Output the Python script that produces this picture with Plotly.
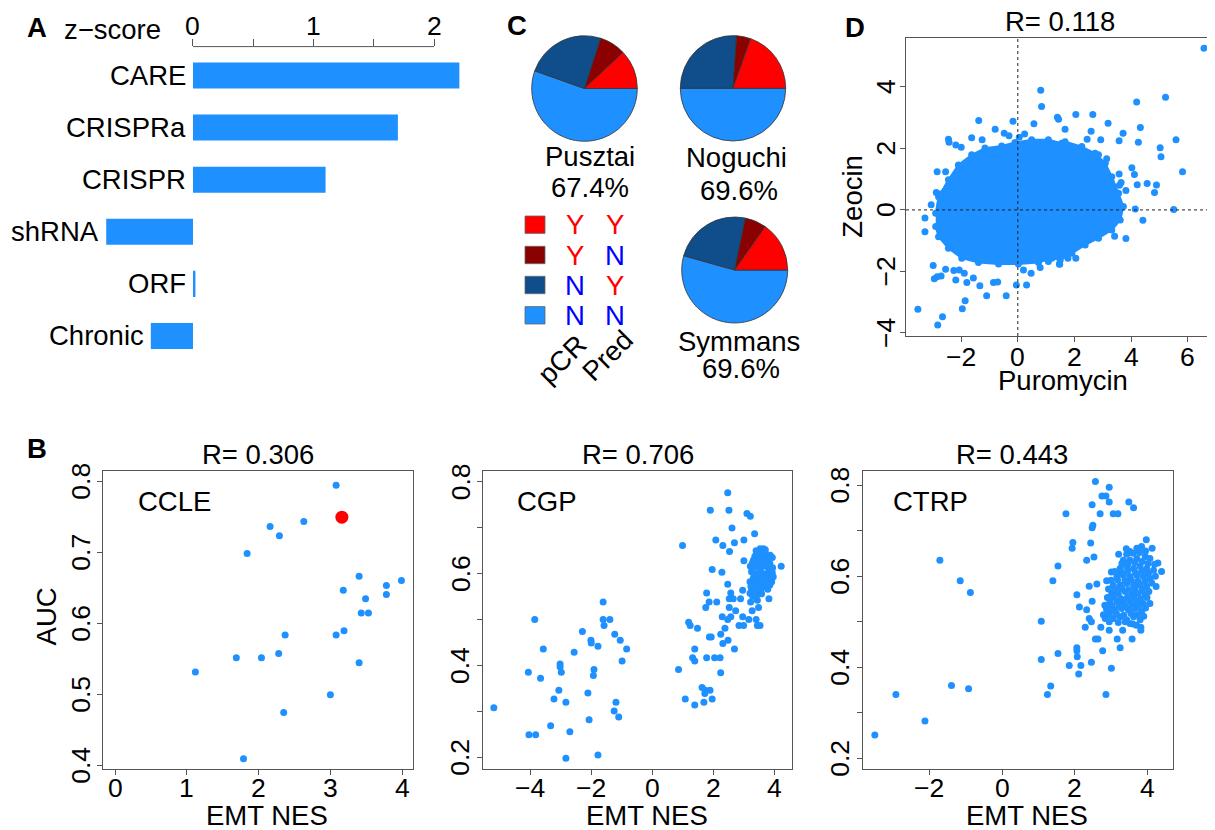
import plotly.graph_objects as go

# The page body keeps an 8px margin, so the figure is placed 8px in and sized to fill the window.
OFF = 8
W, H = 1215 - OFF, 830 - OFF
def px(x): return (x - OFF) / W
def py(y): return 1 - (y - OFF) / H

FONT = "Liberation Sans, Arial, Helvetica, sans-serif"
BLUE = "#1E90FF"
AXC = "#555555"
TXT = 27.5
TICK = 26.5

# ---------------- Panel A data ----------------
methods = ["CARE", "CRISPRa", "CRISPR", "shRNA", "ORF", "Chronic"]
zscores = [2.21, 1.70, 1.10, -0.72, 0.02, -0.35]
z_tickvals = [0, 0.5, 1, 1.5, 2]
z_ticktext = ["0", "", "1", "", "2"]

# ---------------- Panel C data ----------------
pie_names = ["Pusztai", "Noguchi", "Symmans"]
pie_accuracy = ["67.4%", "69.6%", "69.6%"]
# order: pCR Y/Pred Y, pCR Y/Pred N, pCR N/Pred Y, pCR N/Pred N
pusztai_counts = [5.5, 3.7, 11.3, 25.5]
noguchi_counts = [9, 2, 12, 23]
symmans_counts = [7, 3, 11, 25]
pie_colors = ["#FF0000", "#8B0000", "#104E8B", "#1E90FF"]
legend_pcr = ["Y", "Y", "N", "N"]
legend_pred = ["Y", "N", "Y", "N"]
yn_colors = {"Y": "#FF0000", "N": "#0000FF"}

# ---------------- Panel B data ----------------
ccle_nes = [3.08, 2.16, 2.29, 2.63, 1.84, 3.40, 3.18, 3.78, 3.99, 3.78, 3.49, 3.43,
            3.53, 3.19, 3.08, 2.37, 2.28, 2.04, 1.69, 1.12, 3.40, 3.00, 2.35, 1.79]
ccle_auc = [0.795, 0.737, 0.724, 0.744, 0.699, 0.667, 0.647, 0.654, 0.661, 0.641, 0.635, 0.615,
            0.615, 0.590, 0.584, 0.584, 0.558, 0.552, 0.552, 0.532, 0.545, 0.500, 0.475, 0.410]
ccle_highlight_nes = [3.16]
ccle_highlight_auc = [0.750]

cgp_nes = [-5.19, -4.06, -3.85, -3.57, -3.66, -4.04, -3.82, -3.33, -3.22, -3.06, -3.02, -3.02,
           -2.98, -2.83, -2.83, -2.70, -2.56, -2.29, -2.11, -2.07, -2.01, -2.00, -1.91, -1.93,
           -1.78, -1.78, -1.61, -1.61, -1.58, -1.39, -1.23, -1.05, -0.84, -0.99, -1.19, -1.25, -1.10,
           2.47, 1.90, 2.51, 3.10, 3.21, 2.61, 3.35, 2.08, 2.31, 2.69, 3.00, 2.53, 0.99, 3.53,
           3.64, 3.69, 3.00, 3.93, 4.22, 1.96, 2.28, 3.21, 2.47, 2.96, 1.78, 2.57, 1.86, 2.11,
           1.75, 2.52, 2.65, 2.89, 3.22, 3.82, 3.48, 3.27, 2.73, 2.52, 2.29, 2.47, 2.57, 2.96,
           3.16, 2.84, 2.99, 3.40, 3.44, 3.53, 1.19, 1.24, 1.48, 2.38, 2.24, 1.93, 1.87, 2.48,
           2.31, 2.69, 1.39, 1.32, 1.39, 1.78, 2.04, 2.22, 0.86, 2.24, 1.63, 1.73, 1.89, 1.72,
           1.08, 1.96, 1.69, 1.39,
           3.31, 3.44, 3.58, 3.75, 3.85, 3.36, 3.53, 3.69, 3.83, 3.94, 3.25, 3.42, 3.58, 3.75,
           3.89, 3.31, 3.47, 3.64, 3.80, 3.91, 3.20, 3.36, 3.53, 3.69, 3.25, 3.42, 3.58, 3.20,
           3.47, 3.75, 3.85, 3.29, 3.44, 3.85, 3.96, 3.64, 3.36, 3.47, 3.69,
           3.40, 3.55, 3.70, 3.86, 3.27, 3.50, 3.66, 3.80, 3.33, 3.50, 3.68, 3.93, 3.23, 3.40,
           3.62, 3.78, 3.33, 3.58, 3.70, 3.40]
cgp_auc = [0.308, 0.385, 0.500, 0.436, 0.372, 0.249, 0.249, 0.269, 0.327, 0.346, 0.403, 0.397,
           0.385, 0.320, 0.198, 0.256, 0.429, 0.474, 0.340, 0.282, 0.455, 0.449, 0.391, 0.378,
           0.442, 0.205, 0.538, 0.500, 0.487, 0.500, 0.468, 0.455, 0.436, 0.410, 0.320, 0.301, 0.288,
           0.776, 0.738, 0.738, 0.731, 0.725, 0.699, 0.687, 0.673, 0.661, 0.667, 0.673, 0.648, 0.661, 0.654,
           0.654, 0.648, 0.628, 0.635, 0.616, 0.609, 0.603, 0.616, 0.577, 0.564, 0.558, 0.558, 0.538, 0.538,
           0.526, 0.545, 0.545, 0.545, 0.538, 0.545, 0.526, 0.519, 0.519, 0.526, 0.506, 0.500, 0.506, 0.506,
           0.500, 0.487, 0.487, 0.500, 0.487, 0.487, 0.494, 0.487, 0.481, 0.481, 0.468, 0.462, 0.462, 0.455,
           0.448, 0.436, 0.436, 0.417, 0.410, 0.417, 0.417, 0.417, 0.391, 0.384, 0.352, 0.346, 0.346, 0.339,
           0.327, 0.327, 0.320, 0.314,
           0.629, 0.626, 0.633, 0.629, 0.622, 0.615, 0.613, 0.616, 0.609, 0.613, 0.604, 0.600, 0.602, 0.600,
           0.597, 0.590, 0.587, 0.590, 0.586, 0.582, 0.582, 0.577, 0.575, 0.577, 0.568, 0.564, 0.568, 0.557,
           0.555, 0.579, 0.575, 0.550, 0.542, 0.590, 0.593, 0.626, 0.638, 0.640, 0.640,
           0.650, 0.645, 0.652, 0.640, 0.622, 0.620, 0.624, 0.617, 0.597, 0.595, 0.598, 0.602, 0.572, 0.571,
           0.583, 0.566, 0.560, 0.556, 0.590, 0.585]

ctrp_nes = [-3.50, -2.92, -2.12, -1.71, -1.15, -0.87, -1.39, -0.92,
            2.57, 2.95, 2.75, 2.86, 2.95, 3.49, 3.62, 2.48, 1.76, 2.70, 3.06, 3.19, 2.50, 2.48,
            1.95, 1.93, 2.44, 2.53, 2.33, 1.54, 1.40, 1.08, 1.08, 3.21, 3.43, 3.01, 2.61, 2.40,
            2.88, 2.06, 2.48, 2.13, 2.33, 2.40, 2.46, 2.29, 2.72, 2.95, 3.17, 3.58, 3.32, 3.82,
            3.82, 2.57, 2.64, 3.25, 2.77, 2.06, 2.06, 2.07, 1.54, 1.85, 2.17, 2.46, 2.11, 3.01,
            1.34, 1.25, 2.86, 3.97, 4.13, 4.29, 4.39, 4.24, 4.07, 2.88, 2.79, 2.95,
            3.52, 3.71, 3.84, 3.34, 3.52, 3.71, 3.94, 4.07, 3.25, 3.43, 3.62, 3.80, 3.98, 4.17,
            3.16, 3.34, 3.52, 3.71, 3.89, 4.07, 3.06, 3.25, 3.43, 3.62, 3.80, 3.98, 3.02, 3.20,
            3.39, 3.57, 3.75, 3.94, 2.97, 3.16, 3.34, 3.52, 3.71, 3.89, 2.88, 3.11, 3.29, 3.48,
            3.66, 3.84, 2.84, 3.06, 3.25, 3.43, 3.62, 3.80, 2.97, 3.39, 3.52,
            3.42, 3.60, 3.78, 3.95, 3.30, 3.47, 3.66, 3.86, 4.02, 4.20, 3.10, 3.28, 3.46, 3.67,
            3.85, 4.03, 4.22, 3.00, 3.18, 3.38, 3.56, 3.74, 3.93, 4.12, 2.93, 3.12, 3.30, 3.48,
            3.66, 3.86, 4.04, 2.90, 3.08, 3.27, 3.45, 3.63, 3.81, 3.99, 2.83, 3.02, 3.21, 3.39,
            3.57, 3.76, 3.95, 2.95, 3.15, 3.35, 3.55, 3.72, 3.90, 3.20, 3.60, 3.70]
ctrp_auc = [0.251, 0.340, 0.282, 0.635, 0.590, 0.564, 0.360, 0.353,
            0.808, 0.795, 0.776, 0.776, 0.763, 0.763, 0.750, 0.757, 0.737, 0.737, 0.737, 0.737, 0.712, 0.706,
            0.674, 0.661, 0.673, 0.642, 0.635, 0.622, 0.590, 0.501, 0.417, 0.648, 0.648, 0.609, 0.583, 0.578,
            0.590, 0.559, 0.545, 0.532, 0.526, 0.507, 0.500, 0.488, 0.488, 0.481, 0.462, 0.462, 0.481, 0.488,
            0.481, 0.462, 0.462, 0.443, 0.436, 0.443, 0.436, 0.423, 0.430, 0.404, 0.404, 0.411, 0.385, 0.398,
            0.359, 0.340, 0.340, 0.680, 0.661, 0.629, 0.610, 0.577, 0.540, 0.528, 0.515, 0.500,
            0.654, 0.661, 0.665, 0.635, 0.635, 0.639, 0.643, 0.639, 0.617, 0.621, 0.617, 0.621, 0.617, 0.613,
            0.599, 0.602, 0.599, 0.602, 0.599, 0.595, 0.580, 0.580, 0.584, 0.580, 0.580, 0.577, 0.562, 0.562,
            0.566, 0.562, 0.562, 0.559, 0.544, 0.545, 0.544, 0.545, 0.544, 0.540, 0.529, 0.526, 0.529, 0.526,
            0.529, 0.522, 0.507, 0.507, 0.511, 0.504, 0.511, 0.504, 0.522, 0.500, 0.496,
            0.660, 0.650, 0.652, 0.655, 0.628, 0.627, 0.630, 0.632, 0.628, 0.626, 0.610, 0.609, 0.612, 0.608,
            0.611, 0.606, 0.600, 0.591, 0.592, 0.590, 0.591, 0.589, 0.588, 0.585, 0.572, 0.571, 0.573, 0.570,
            0.572, 0.569, 0.566, 0.553, 0.554, 0.551, 0.553, 0.552, 0.550, 0.553, 0.536, 0.535, 0.537, 0.534,
            0.536, 0.533, 0.530, 0.515, 0.517, 0.514, 0.518, 0.515, 0.512, 0.498, 0.495, 0.492]

b_titles = ["R= 0.306", "R= 0.706", "R= 0.443"]
b_labels = ["CCLE", "CGP", "CTRP"]
ccle_xticks = [0, 1, 2, 3, 4]
cgp_xticks = [-4, -2, 0, 2, 4]
ctrp_xticks = [-2, 0, 2, 4]
auc_ticks_b = [0.4, 0.5, 0.6, 0.7, 0.8]
auc_ticks = [0.2, 0.3, 0.4, 0.5, 0.6, 0.7, 0.8]
auc_labels = [0.2, 0.4, 0.6, 0.8]

# ---------------- Panel D data ----------------
puro_out = [0.81, 0.84, 1.40, 1.44, -1.38, -0.17, 0.57, -0.80, -0.48, -0.31, 0.05, 0.24, -1.63,
            -1.26, -2.45, -2.43, -2.19, -2.00, -2.85, -2.55, -2.50, -2.88, -2.73, -3.06, -3.28,
            -3.28, -2.99, -2.95, -2.85, -2.71, -2.55, -2.26, -2.19, -2.07, -1.80, -1.89, -1.57,
            -1.34, -1.10, -0.86, -0.71, -0.41, -0.05, 0.31, -3.53, -1.86, -1.96, -2.66, -2.83,
            0.20, 0.47, 0.79, 1.08, 1.47,
            6.58, 5.22, 4.20, 2.05, 2.65, 3.19, 4.33, 1.67, 2.59, 3.72, 2.45, 2.93, 3.58, 4.26,
            5.59, 5.03, 5.06, 4.03, 4.12, 5.82, 3.58, 3.65, 3.59, 3.82, 4.22, 4.57, 4.90, 4.83,
            4.15, 5.51, 4.42, 3.82, 3.42, 1.77, 2.05, 1.48, 3.14, 2.85]
zeo_out = [3.89, 3.36, 3.01, 2.95, 2.91, 2.88, 2.80, 2.62, 2.49, 2.41, 2.36, 2.47, 2.35,
           2.28, 2.30, 2.20, 2.11, 2.04, 1.24, 1.24, 0.68, 0.57, 0.52, 0.17, -0.26,
           -0.71, -1.81, -2.24, -2.17, -2.15, -1.93, -1.97, -2.28, -1.95, -2.36, -2.06, -2.21,
           -2.47, -2.79, -2.36, -2.34, -2.79, -2.44, -2.44, -3.23, -2.95, -3.21, -3.47, -3.74,
           -1.95, -2.06, -1.87, -1.68, -1.76,
           5.26, 3.66, 3.51, 3.10, 3.10, 2.82, 2.68, 2.62, 2.56, 2.49, 2.30, 2.28, 2.25, 2.20,
           2.28, 2.02, 1.73, 1.37, 1.15, 1.24, 1.17, 0.89, 0.80, 0.63, 0.82, 0.86, 0.81, 0.57,
           0.03, 0.01, -0.34, -0.93, -0.86, -1.57, -1.57, -1.77, 1.66, 1.79]
# outline of the saturated central cloud of points
puro_cloud = [-2.90, -2.80, -2.45, -2.10, -1.63, -1.16, -0.57, -0.10, 0.49, 1.08, 1.55, 1.67, 2.26,
              2.73, 3.09, 3.32, 3.56, 3.73, 3.62, 3.32, 2.85, 2.38, 1.91, 1.50, 1.20, 0.73, 0.02,
              -0.68, -1.39, -1.98, -2.45, -2.80, -2.90]
zeo_cloud = [-0.11, 0.43, 0.98, 1.46, 1.79, 2.01, 2.08, 2.19, 2.28, 2.28, 2.17, 2.22, 2.06,
             1.84, 1.52, 1.08, 0.54, 0.11, -0.33, -0.65, -0.92, -1.14, -1.41, -1.63, -1.57, -1.71, -1.76,
             -1.76, -1.71, -1.57, -1.25, -0.87, -0.54]
d_title = "R= 0.118"
d_xticks = [-2, 0, 2, 4, 6]
d_yticks = [-4, -2, 0, 2, 4]

fig = go.Figure()

# ---------------- Panel A ----------------
fig.add_trace(go.Bar(x=zscores, y=methods, orientation="h", width=0.5,
                     marker=dict(color=BLUE, line=dict(width=0)),
                     xaxis="x", yaxis="y", hoverinfo="skip"))

# ---------------- Panel C pies ----------------
# slices drawn clockwise in reverse order from 3 o'clock == counterclockwise in original order
pie_geom = [(584.5, 88.5, 52.8), (733.0, 88.3, 52.7), (734.7, 270.0, 53.0)]
for counts, (cx, cy, r) in zip([pusztai_counts, noguchi_counts, symmans_counts], pie_geom):
    fig.add_trace(go.Pie(values=counts[::-1], sort=False, direction="clockwise", rotation=90,
                         marker=dict(colors=pie_colors[::-1], line=dict(color="#333333", width=0.8)),
                         textinfo="none", hoverinfo="skip", showlegend=False,
                         domain=dict(x=[px(cx - r), px(cx + r)], y=[py(cy + r), py(cy - r)])))

# ---------------- Panel B scatters ----------------
mk = dict(color=BLUE, size=7, line=dict(width=0))
fig.add_trace(go.Scatter(x=ccle_nes, y=ccle_auc, mode="markers", marker=mk, xaxis="x2", yaxis="y2", hoverinfo="skip"))
fig.add_trace(go.Scatter(x=ccle_highlight_nes, y=ccle_highlight_auc, mode="markers",
                         marker=dict(color="#FF0000", size=13, line=dict(width=0)), xaxis="x2", yaxis="y2", hoverinfo="skip"))
fig.add_trace(go.Scatter(x=cgp_nes, y=cgp_auc, mode="markers", marker=mk, xaxis="x3", yaxis="y3", hoverinfo="skip"))
fig.add_trace(go.Scatter(x=ctrp_nes, y=ctrp_auc, mode="markers", marker=mk, xaxis="x4", yaxis="y4", hoverinfo="skip"))

# ---------------- Panel D ----------------
fig.add_trace(go.Scatter(x=puro_cloud, y=zeo_cloud, mode="lines", fill="toself", fillcolor=BLUE,
                         line=dict(color=BLUE, width=2), xaxis="x5", yaxis="y5", hoverinfo="skip"))
fig.add_trace(go.Scatter(x=puro_cloud, y=zeo_cloud, mode="markers", marker=mk, xaxis="x5", yaxis="y5", hoverinfo="skip"))
fig.add_trace(go.Scatter(x=puro_out, y=zeo_out, mode="markers", marker=mk, xaxis="x5", yaxis="y5", hoverinfo="skip"))

def frame_axes(xd, yd, xr, yr, xt, yt, anchor_x, anchor_y):
    common = dict(showline=True, mirror=True, linecolor=AXC, linewidth=1, ticks="outside",
                  ticklen=5, tickcolor=AXC, showgrid=False, zeroline=False, automargin=False,
                  showticklabels=False)
    xa = dict(domain=[px(xd[0]), px(xd[1])], range=xr, tickvals=xt, anchor=anchor_y, **common)
    ya = dict(domain=[py(yd[1]), py(yd[0])], range=yr, tickvals=yt, anchor=anchor_x, **common)
    return xa, ya

x2, y2 = frame_axes((103.3, 413.3), (470.7, 769.3), [-0.163, 4.155], [0.395, 0.8155],
                    ccle_xticks, auc_ticks_b, "x2", "y2")
x3, y3 = frame_axes((483.3, 792.3), (470.7, 769.3), [-5.535, 4.585], [0.174, 0.824],
                    cgp_xticks, auc_ticks, "x3", "y3")
x4, y4 = frame_axes((863.3, 1172.7), (470.7, 769.3), [-3.817, 4.697], [0.1759, 0.8315],
                    ctrp_xticks, auc_ticks, "x4", "y4")
x5, y5 = frame_axes((906.0, 1214.5), (37.7, 336.0), [-3.95, 6.95], [-4.10, 5.60],
                    d_xticks, d_yticks, "x5", "y5")

ann = []
def text(x, y, s, size=TXT, color="black", bold=False, angle=0, xanchor="center", yanchor="middle"):
    ann.append(dict(x=px(x), y=py(y), xref="paper", yref="paper", text=("<b>%s</b>" % s) if bold else s,
                    showarrow=False, font=dict(family=FONT, size=size, color=color),
                    textangle=angle, xanchor=xanchor, yanchor=yanchor))

def fmt(v):
    return ("%g" % v).replace("-", "\u2212")

def xtick_labels(axis, vals, ypix):
    for v in vals:
        ann.append(dict(x=v, y=py(ypix), xref=axis, yref="paper", text=fmt(v), showarrow=False,
                        xanchor="center", yanchor="middle", font=dict(family=FONT, size=TICK, color="black")))

def ytick_labels(axis, vals, xpix):
    for v in vals:
        ann.append(dict(x=px(xpix), y=v, xref="paper", yref=axis, text=fmt(v), showarrow=False, textangle=-90,
                        xanchor="center", yanchor="middle", font=dict(family=FONT, size=TICK, color="black")))

# panel letters
text(36.7, 27, "A", bold=True)
text(36.7, 448.3, "B", bold=True)
text(517, 25, "C", bold=True)
text(855, 27, "D", bold=True)

# panel A
text(163.3, 30, "z\u2212score", xanchor="right")
xtick_labels("x", [v for v, t in zip(z_tickvals, z_ticktext) if t], 26)
for m, v in zip(methods, zscores):
    ann.append(dict(x=min(0, v), y=m, xref="x", yref="y", text=m, showarrow=False, xanchor="right",
                    xshift=-5, font=dict(family=FONT, size=TXT, color="black")))

# panel C
name_pos = [(589.5, 156.7, 590, 188), (736.7, 157, 739, 190), (739, 341.7, 741, 368)]
for nm, acc, (nx, ny, ax_, ay_) in zip(pie_names, pie_accuracy, name_pos):
    text(nx, ny, nm)
    text(ax_, ay_, acc)
row_y = [224.7, 255.0, 285.0, 315.3]
shapes = []
for i, (c, a, b) in enumerate(zip(pie_colors, legend_pcr, legend_pred)):
    yy = row_y[i]
    shapes.append(dict(type="rect", xref="paper", yref="paper", x0=px(525), x1=px(545),
                       y0=py(yy + 8.7), y1=py(yy - 8.7), fillcolor=c, line=dict(color="#666666", width=0.8)))
    text(575, yy, a, color=yn_colors[a])
    text(615, yy, b, color=yn_colors[b])
text(562, 360, "pCR", angle=-45)
text(608, 356, "Pred", angle=-45)

# panel B
for t, lbl, tx, lx, ex in zip(b_titles, b_labels, [258.3, 638.3, 1011.7], [174.5, 546.7, 930.8], [266.7, 646.7, 1026.7]):
    text(tx, 455, t)
    text(lx, 501.7, lbl)
    text(ex, 815, "EMT NES")
text(46.7, 616.7, "AUC", angle=-90)
xtick_labels("x2", ccle_xticks, 787.5)
xtick_labels("x3", cgp_xticks, 787.5)
xtick_labels("x4", ctrp_xticks, 787.5)
ytick_labels("y2", auc_ticks_b, 81)
ytick_labels("y3", auc_labels, 460.5)
ytick_labels("y4", auc_labels, 840.5)

# panel D
text(1060, 21.7, d_title)
text(853, 196.7, "Zeocin", angle=-90)
text(1063, 380, "Puromycin")
xtick_labels("x5", d_xticks, 356.7)
ytick_labels("y5", d_yticks, 886)

# panel A axis line only from 0 to 2
shapes.append(dict(type="line", xref="x", yref="paper", x0=z_tickvals[0], x1=z_tickvals[-1],
                   y0=py(46.6), y1=py(46.6), line=dict(color=AXC, width=1)))
# panel D dotted reference lines
shapes.append(dict(type="line", xref="x5 domain", yref="y5", x0=0, x1=1, y0=0, y1=0,
                   line=dict(color="#222222", width=1, dash="3px,3px")))
shapes.append(dict(type="line", xref="x5", yref="y5 domain", x0=0, x1=0, y0=0, y1=1,
                   line=dict(color="#222222", width=1, dash="3px,3px")))

fig.update_layout(
    width=W, height=H, margin=dict(l=0, r=0, t=0, b=0, pad=0, autoexpand=False),
    paper_bgcolor="white", plot_bgcolor="white", showlegend=False,
    font=dict(family=FONT, size=TXT, color="black"),
    xaxis=dict(domain=[px(102.6), px(470.2)], range=[-0.75, 2.3], side="top", anchor="y",
               tickvals=z_tickvals, ticks="outside", ticklen=7, tickcolor=AXC, showticklabels=False,
               showline=False, showgrid=False, zeroline=False, automargin=False),
    yaxis=dict(domain=[py(362), py(46.6)], type="category", range=[5.5, -0.555], anchor="x",
               showticklabels=False, showgrid=False, zeroline=False, ticks="", automargin=False),
    xaxis2=x2, yaxis2=y2, xaxis3=x3, yaxis3=y3, xaxis4=x4, yaxis4=y4, xaxis5=x5, yaxis5=y5,
    annotations=ann, shapes=shapes,
)

fig.write_html("out.html")
